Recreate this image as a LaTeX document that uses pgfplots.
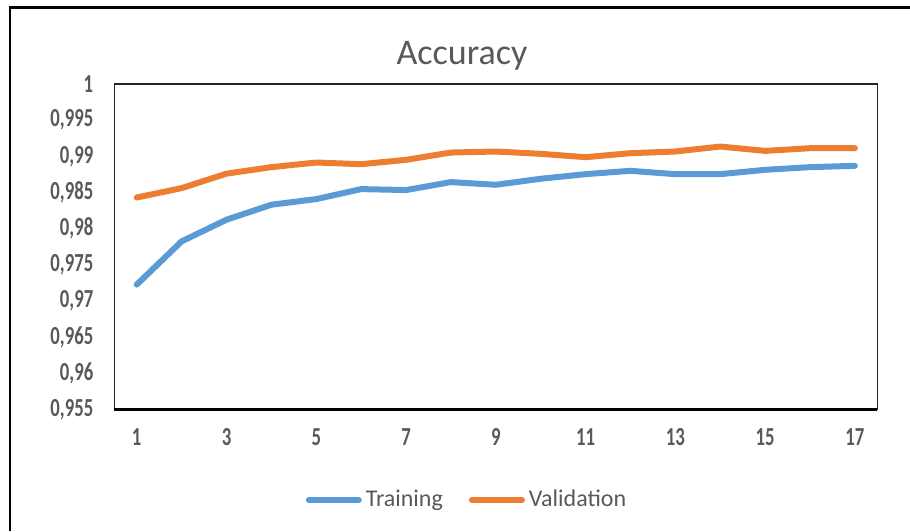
\documentclass[border=0pt]{standalone}
\usepackage{fontspec}
\setmainfont{Carlito}
\newfontfamily\tickfont{Carlito}[FakeStretch=0.72]
\usepackage{pgfplots}
\pgfplotsset{compat=1.18}
\definecolor{cblue}{HTML}{5B9BD5}
\definecolor{corange}{HTML}{ED7D31}
\definecolor{tgray}{HTML}{595959}
\begin{document}
\begin{tikzpicture}[x=1pt,y=1pt]
\useasboundingbox (0,0) rectangle (455,265.5);
\draw[line width=1.3pt,black] (5,0) -- (5,261.75) -- (455,261.75);
\node[font=\fontsize{18}{20}\selectfont,text=tgray] at (231,237.5) {Accuracy};
\begin{axis}[
  at={(57.15pt,60.85pt)}, anchor=south west,
  scale only axis, width=381.5pt, height=162.65pt,
  xmin=0.5, xmax=17.5, ymin=0.955, ymax=1,
  xtick={1,3,5,7,9,11,13,15,17},
  xticklabels={1,3,5,7,9,11,13,15,17},
  ytick={0.955,0.96,0.965,0.97,0.975,0.98,0.985,0.99,0.995,1},
  yticklabels={{0,955},{0,96},{0,965},{0,97},{0,975},{0,98},{0,985},{0,99},{0,995},{1}},
  major tick length=0pt,
  axis line style={line width=0.6pt, black!85},
  tick label style={font=\tickfont\bfseries\fontsize{13}{15}\selectfont, text=tgray},
  yticklabel style={xshift=-7pt},
  xticklabel style={yshift=-6pt},
  legend style={at={(0.4636,-0.279)}, anchor=center, draw=none, fill=none,
    legend columns=2, font=\fontsize{12}{14}\selectfont, text=tgray,
    /tikz/every even column/.append style={column sep=11pt},
    inner sep=0pt},
  legend image code/.code={\draw[#1, line width=3pt, line cap=round] (0pt,0pt) -- (25pt,0pt);},
  clip=false,
]
\addplot[cblue, line width=3pt, line cap=round, line join=round] coordinates {
(1,0.97225) (2,0.97823) (3,0.98123) (4,0.98330) (5,0.98408) (6,0.98546) (7,0.98533) (8,0.98643) (9,0.98606)
(10,0.98689) (11,0.98753) (12,0.98799) (13,0.98753) (14,0.98753) (15,0.98813) (16,0.98850) (17,0.98868)};
\addlegendentry{Training}
\addplot[corange, line width=3pt, line cap=round, line join=round] coordinates {
(1,0.98430) (2,0.98560) (3,0.98760) (4,0.98850) (5,0.98914) (6,0.98891) (7,0.98951) (8,0.99052) (9,0.99066)
(10,0.99034) (11,0.98988) (12,0.99043) (13,0.99066) (14,0.99135) (15,0.99075) (16,0.99112) (17,0.99112)};
\addlegendentry{Validation}
\draw[line width=1.3pt, black] (rel axis cs:0,0) -- (rel axis cs:1,0);
\end{axis}
\end{tikzpicture}
\end{document}
